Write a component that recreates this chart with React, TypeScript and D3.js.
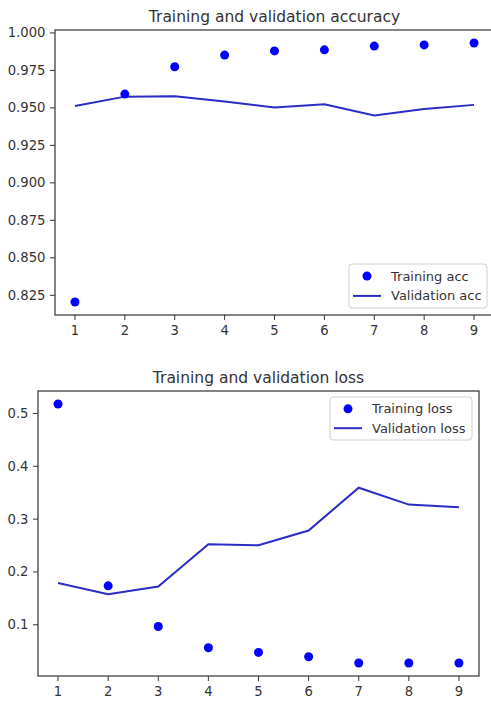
import React from "react";
import * as d3 from "d3";

const epochs = [1, 2, 3, 4, 5, 6, 7, 8, 9];
const trainAcc = [0.8205, 0.9592, 0.9774, 0.9852, 0.988, 0.9887, 0.9912, 0.992, 0.9933];
const valAcc = [0.9513, 0.9575, 0.9578, 0.9542, 0.9503, 0.9524, 0.945, 0.9493, 0.952];
const trainLoss = [0.518, 0.1737, 0.0968, 0.0565, 0.0477, 0.0395, 0.0276, 0.0276, 0.0276];
const valLoss = [0.179, 0.158, 0.1725, 0.2525, 0.2505, 0.2785, 0.3595, 0.3275, 0.3225];
const accTicks = [0.825, 0.85, 0.875, 0.9, 0.925, 0.95, 0.975, 1.0];
const lossTicks = [0.1, 0.2, 0.3, 0.4, 0.5];

const FONT = "DejaVu Sans, sans-serif";
const INK = "#333";
const DOT = "#0000ff";
const LINE = "#2b2bc8";

// matplotlib-ish 5% margin around the data
const padded = (vals: number[]) => {
  const [lo = 0, hi = 1] = d3.extent(vals);
  const m = (hi - lo) * 0.05;
  return [lo - m, hi + m];
};

type PanelProps = {
  title: string;
  box: { left: number; right: number; top: number; bottom: number };
  train: number[];
  val: number[];
  yTicks: number[];
  fmt: string;
  titleY: number;
  legend: { left: number; right: number; top: number; bottom: number; trainLabel: string; valLabel: string };
};

const Panel = ({ title, box, train, val, yTicks, fmt, titleY, legend }: PanelProps) => {
  const x = d3.scaleLinear().domain(padded(epochs)).range([box.left, box.right]);
  const y = d3.scaleLinear().domain(padded([...train, ...val])).range([box.bottom, box.top]);
  const line = d3
    .line<number>()
    .x((_, i) => x(epochs[i]))
    .y((d) => y(d));
  const f = d3.format(fmt);
  const lh = (legend.bottom - legend.top) / 2;
  const row1 = legend.top + lh * 0.55;
  const row2 = legend.top + lh * 1.45;

  return (
    <g>
      <text x={(box.left + box.right) / 2} y={titleY} textAnchor="middle" fontSize={15.5} fill={INK} fontFamily={FONT}>
        {title}
      </text>
      <path d={line(val) || ""} fill="none" stroke={LINE} strokeWidth={2} />
      {train.map((d, i) => (
        <circle key={i} cx={x(epochs[i])} cy={y(d)} r={4.5} fill={DOT} />
      ))}
      <rect
        x={box.left}
        y={box.top}
        width={box.right - box.left}
        height={box.bottom - box.top}
        fill="none"
        stroke={INK}
        strokeWidth={1.2}
      />
      {epochs.map((e) => (
        <g key={e}>
          <line x1={x(e)} x2={x(e)} y1={box.bottom} y2={box.bottom + 5} stroke={INK} />
          <text x={x(e)} y={box.bottom + 19.5} textAnchor="middle" fontSize={13.2} fill={INK} fontFamily={FONT}>
            {e}
          </text>
        </g>
      ))}
      {yTicks.map((t) => (
        <g key={t}>
          <line x1={box.left - 5} x2={box.left} y1={y(t)} y2={y(t)} stroke={INK} />
          <text
            x={box.left - 9.5}
            y={y(t)}
            textAnchor="end"
            dominantBaseline="central"
            fontSize={13.2}
            fill={INK}
            fontFamily={FONT}
          >
            {f(t)}
          </text>
        </g>
      ))}
      <rect
        x={legend.left}
        y={legend.top}
        width={legend.right - legend.left}
        height={legend.bottom - legend.top}
        rx={3}
        fill="white"
        fillOpacity={0.8}
        stroke="#d0d0d0"
      />
      <circle cx={legend.left + 18} cy={row1} r={4.5} fill={DOT} />
      <line x1={legend.left + 4} x2={legend.left + 32} y1={row2} y2={row2} stroke={LINE} strokeWidth={2} />
      <text x={legend.left + 42} y={row1} dominantBaseline="central" fontSize={13} fill={INK} fontFamily={FONT}>
        {legend.trainLabel}
      </text>
      <text x={legend.left + 42} y={row2} dominantBaseline="central" fontSize={13} fill={INK} fontFamily={FONT}>
        {legend.valLabel}
      </text>
    </g>
  );
};

export default function App() {
  return (
    <svg width={491} height={702} style={{ position: "absolute", left: 0, top: 0, background: "white" }}>
      <Panel
        title="Training and validation accuracy"
        box={{ left: 55, right: 494, top: 30, bottom: 315 }}
        train={trainAcc}
        val={valAcc}
        yTicks={accTicks}
        fmt=".3f"
        titleY={22}
        legend={{ left: 349, right: 487, top: 264, bottom: 308, trainLabel: "Training acc", valLabel: "Validation acc" }}
      />
      <Panel
        title="Training and validation loss"
        box={{ left: 38, right: 479, top: 391, bottom: 676 }}
        train={trainLoss}
        val={valLoss}
        yTicks={lossTicks}
        fmt=".1f"
        titleY={383}
        legend={{ left: 330, right: 472, top: 397, bottom: 440, trainLabel: "Training loss", valLabel: "Validation loss" }}
      />
    </svg>
  );
}
